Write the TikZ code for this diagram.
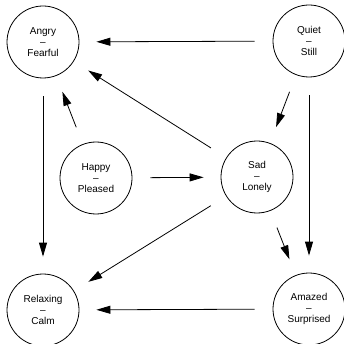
\documentclass[tikz,border=0pt]{standalone}
\usepackage{fontspec}
\setmainfont{Liberation Sans}
\usetikzlibrary{arrows.meta}
\begin{document}
\begin{tikzpicture}[x=1pt,y=-1pt,
  state/.style={circle,draw,line width=0.8pt,minimum size=72pt,inner sep=0pt,
    align=center,font=\fontsize{10pt}{11pt}\selectfont},
  edge/.style={line width=0.8pt,-{Triangle[length=14pt,width=8pt]},
    shorten <=18pt,shorten >=17pt}]
\useasboundingbox (0,0) rectangle (343,344);
\node[state] (angry) at (43,42) {Angry\\–\\Fearful};
\node[state] (quiet) at (309,41) {Quiet\\–\\Still};
\node[state] (happy) at (96,178) {Happy\\–\\Pleased};
\node[state] (sad) at (257,177) {Sad\\–\\Lonely};
\node[state] (relax) at (43,310) {Relaxing\\–\\Calm};
\node[state] (amazed) at (309,309) {Amazed\\–\\Surprised};
\draw[edge] (quiet) -- (angry);
\draw[edge] (quiet) -- (sad);
\draw[edge] (quiet) -- (amazed);
\draw[edge] (sad) -- (angry);
\draw[edge] (happy) -- (angry);
\draw[edge] (happy) -- (sad);
\draw[edge] (angry) -- (relax);
\draw[edge] (sad) -- (relax);
\draw[edge] (sad) -- (amazed);
\draw[edge] (amazed) -- (relax);
\end{tikzpicture}
\end{document}
